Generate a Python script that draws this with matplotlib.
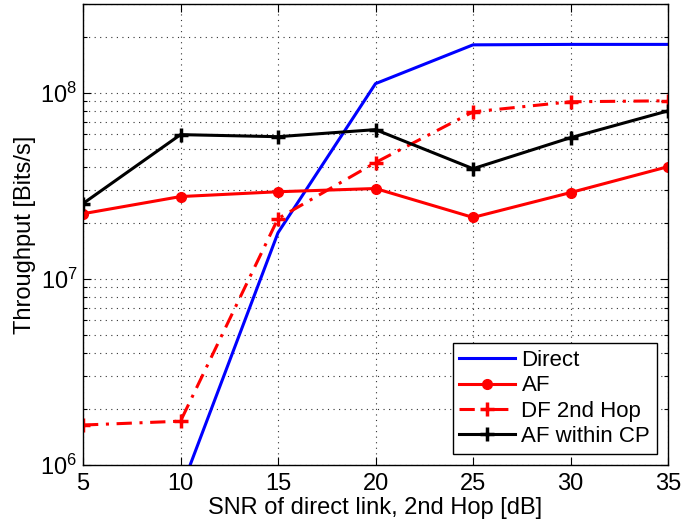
import numpy as np
import matplotlib
matplotlib.use("Agg")
import matplotlib.pyplot as plt
from matplotlib.ticker import LogLocator, NullFormatter, FixedLocator

plt.rcParams['font.family'] = ['Liberation Sans', 'DejaVu Sans']
plt.rcParams['mathtext.fontset'] = 'custom'
plt.rcParams['mathtext.rm'] = 'Liberation Sans'

# SNR of direct link (dB)
snr = [5, 10, 15, 20, 25, 30, 35]

# throughput in bits/s for each scheme
direct = [2.0e4, 7.3e5, 1.77e7, 1.12e8, 1.81e8, 1.82e8, 1.82e8]
af = [2.24e7, 2.77e7, 2.94e7, 3.06e7, 2.14e7, 2.91e7, 4.01e7]
df_2nd_hop = [1.64e6, 1.72e6, 2.11e7, 4.22e7, 7.9e7, 8.95e7, 9.06e7]
af_within_cp = [2.54e7, 5.96e7, 5.81e7, 6.34e7, 3.91e7, 5.74e7, 8.0e7]

fig = plt.figure(figsize=(6.82, 5.27), dpi=100)
ax = fig.add_axes([0.1217, 0.1176, 0.8578, 0.8748])

lw = 2.2
ax.plot(snr, direct, color='#0000ff', lw=lw, label='Direct')
ax.plot(snr, af, color='#ff0000', lw=lw, marker='o', ms=7, label='AF')
ax.plot(snr, df_2nd_hop, color='#ff0000', lw=lw, ls=(0, (5, 2.5, 1, 2.5)),
        marker='+', ms=10, mew=2.5, label='DF 2nd Hop')
ax.plot(snr, af_within_cp, color='black', lw=lw, marker='+', ms=10,
        mew=2.5, label='AF within CP')

ax.set_yscale('log')
ax.set_xlim(5, 35)
ax.set_ylim(1e6, 3e8)
ax.xaxis.set_major_locator(FixedLocator(snr))
ax.yaxis.set_major_locator(LogLocator(base=10, numticks=10))
ax.yaxis.set_minor_locator(LogLocator(base=10, subs=np.arange(2, 10), numticks=20))
ax.yaxis.set_minor_formatter(NullFormatter())

ax.grid(True, which='major', ls=(0, (1, 4)), color='#333333', lw=0.8)
ax.grid(True, which='minor', axis='y', ls=(0, (1, 4)), color='#333333', lw=0.8)

ax.tick_params(which='both', direction='in', top=True, right=True,
               labelsize=17, width=0.8)
ax.tick_params(which='major', length=6)
ax.tick_params(axis='x', which='major', pad=6)
ax.tick_params(axis='y', which='major', pad=4)
ax.tick_params(which='minor', length=3)
for s in ax.spines.values():
    s.set_linewidth(1.0)

ax.set_xlabel('SNR of direct link, 2nd Hop [dB]', fontsize=17, labelpad=1)
ax.set_ylabel('Throughput [Bits/s]', fontsize=17, labelpad=3)

leg = ax.legend(loc='lower right', fontsize=16, fancybox=False, framealpha=1,
                edgecolor='black', borderaxespad=0.5, handlelength=2.5,
                labelspacing=0.2, borderpad=0.3, handletextpad=0.3)
leg.get_frame().set_linewidth(1.0)

fig.savefig('out.png', dpi=100)
